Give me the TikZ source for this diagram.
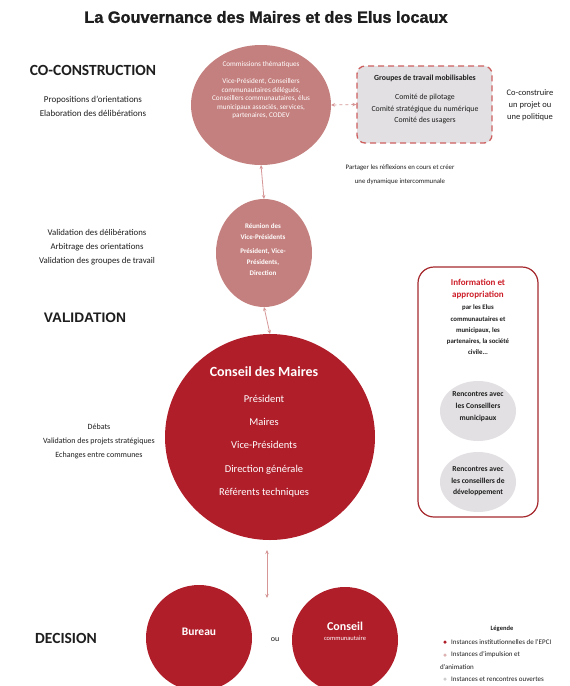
\documentclass[tikz,border=0pt]{standalone}
\usepackage{fontspec}
\setmainfont{Carlito}
\newfontfamily\arialfont{Liberation Sans}
\newfontfamily\titlefont[BoldFont={Liberation Sans Bold},BoldFeatures={FakeBold=1.4}]{Liberation Sans}
\usetikzlibrary{shapes.geometric,arrows.meta}
\definecolor{rose}{RGB}{196,128,126}
\definecolor{crimson}{RGB}{176,30,42}
\definecolor{palegray}{RGB}{226,224,226}
\definecolor{dashred}{RGB}{205,95,95}
\definecolor{linkpink}{RGB}{214,150,150}
\definecolor{framered}{RGB}{165,40,45}
\definecolor{infored}{RGB}{205,30,40}
\definecolor{ink}{RGB}{30,30,30}
\begin{document}
\begin{tikzpicture}[x=1pt,y=-1pt,
  blob/.style={ellipse,inner sep=0pt,outer sep=0pt},
  rosebody/.style={blob,fill=rose},
  redbody/.style={blob,fill=crimson},
  graybody/.style={blob,fill=palegray},
  whitetxt/.style={text=white,align=center,inner sep=0pt},
  darktxt/.style={text=ink,align=center,inner sep=0pt},
  note/.style={darktxt,font=\fontsize{9}{14}\selectfont},
  heading/.style={text=ink,inner sep=0pt,font=\bfseries\fontsize{15.5}{17}\selectfont},
  link/.style={draw=linkpink,line width=0.8pt,{Stealth[length=4pt,width=3.5pt]}-{Stealth[length=4pt,width=3.5pt]}},
  legdot/.style={circle,inner sep=0pt,minimum size=3.5pt},
  legtxt/.style={darktxt,anchor=west,font=\fontsize{7}{8}\selectfont},
]
\useasboundingbox[fill=white] (0,0) rectangle (570,686);

% title
\node[text=ink,inner sep=0pt,font=\titlefont\bfseries\fontsize{16.3}{18}\selectfont] (title) at (266,17)
  {La Gouvernance des Maires et des Elus locaux};

% ---- co-construction level
\node[heading] (hco) at (93,70) {CO-CONSTRUCTION};
\node[note] (coleft) at (93,106) {Propositions d'orientations\\ Elaboration des délibérations};

\node[rosebody,minimum width=140pt,minimum height=120pt] (comm) at (261,105) {};
\node[whitetxt,font=\fontsize{7.2}{8.4}\selectfont] (commtxt) at (261,90)
  {Commissions thématiques\\[9pt] Vice-Président, Conseillers\\ communautaires délégués,\\
   Conseillers communautaires, élus\\ municipaux associés, services,\\ partenaires, CODEV};

\node[draw=dashred,line width=1.3pt,dash pattern=on 6pt off 4pt,rounded corners=8pt,fill=palegray,
      minimum width=135pt,minimum height=77pt,inner sep=0pt] (groups) at (424.5,104.5) {};
\node[darktxt,font=\fontsize{7.8}{11.3}\selectfont] (groupstxt) at (425,99.5)
  {\textbf{Groupes de travail mobilisables}\\[8pt] Comité de pilotage\\ Comité stratégique du numérique\\ Comité des usagers};

\node[darktxt,font=\fontsize{8.5}{12}\selectfont] (cocons) at (530,105) {Co-construire\\ un projet ou\\ une politique};
\node[darktxt,font=\fontsize{6.8}{14}\selectfont] (share) at (400,175)
  {Partager les réflexions en cours et créer\\ une dynamique intercommunale};

\draw[link,dashed] (comm.east) -- (groups.west);

% ---- validation level
\node[note,font=\fontsize{8.8}{14}\selectfont] (valleft) at (97,247) {Validation des délibérations\\ Arbitrage des orientations\\ Validation des groupes de travail};
\node[text=ink,inner sep=0pt,font=\arialfont\bfseries\fontsize{13.8}{15}\selectfont] (hval) at (85,318) {VALIDATION};

\node[rosebody,minimum width=96pt,minimum height=108pt] (vp) at (264,253) {};
\node[whitetxt,font=\bfseries\fontsize{7}{10.8}\selectfont] (vptxt) at (263,249.5)
  {Réunion des\\ Vice-Présidents\\[3pt] Président, Vice-\\ Présidents,\\ Direction};

\draw[link] (comm.south) -- (vp.north);

% ---- council of mayors
\node[redbody,minimum width=210pt,minimum height=206pt] (maires) at (270,437) {};
\node[whitetxt,font=\bfseries\fontsize{14}{16}\selectfont] (mairestitle) at (264,372) {Conseil des Maires};
\node[whitetxt,font=\fontsize{10.5}{23.3}\selectfont] (mairestxt) at (264,446)
  {Président\\ Maires\\ Vice-Présidents\\ Direction générale\\ Référents techniques};

\draw[link] (vp.south) -- (maires.north);

\node[note,font=\fontsize{8}{14}\selectfont] (debleft) at (99,441)
  {Débats\\ Validation des projets stratégiques\\ Echanges entre communes};

% ---- information panel
\node[draw=framered,line width=1.2pt,rounded corners=16pt,minimum width=120pt,minimum height=250pt,inner sep=0pt] (info) at (478,392) {};
\node[text=infored,align=center,inner sep=0pt,font=\bfseries\fontsize{9}{12.5}\selectfont] (infohead) at (478,289)
  {Information et\\ appropriation};
\node[darktxt,font=\bfseries\fontsize{6.8}{11.2}\selectfont] (infotxt) at (478,330)
  {par les Elus\\ communautaires et\\ municipaux, les\\ partenaires, la société\\ civile...};
\node[graybody,minimum width=76pt,minimum height=60pt] (meet1) at (478,411) {};
\node[darktxt,font=\bfseries\fontsize{7.6}{12}\selectfont] (meet1txt) at (478,407)
  {Rencontres avec\\ les Conseillers\\ municipaux};
\node[graybody,minimum width=76pt,minimum height=60pt] (meet2) at (478,482) {};
\node[darktxt,font=\bfseries\fontsize{7.6}{11.5}\selectfont] (meet2txt) at (478,481.5)
  {Rencontres avec\\ les conseillers de\\ développement};

% ---- decision level
\coordinate (decide) at (267,598);
\draw[link] ([yshift=-10pt]maires.south -| decide) -- (decide);

\node[text=ink,inner sep=0pt,font=\bfseries\fontsize{15.5}{17}\selectfont] (hdec) at (66,638) {DECISION};
\node[redbody,minimum width=106pt,minimum height=106pt] (bureau) at (199,638) {};
\node[whitetxt,font=\bfseries\fontsize{11.5}{13}\selectfont] (bureautxt) at (199,632) {Bureau};
\node[darktxt,font=\fontsize{8}{9}\selectfont] (or) at (275,640) {ou};
\node[redbody,minimum width=106pt,minimum height=106pt] (cc) at (345,640) {};
\node[whitetxt,font=\bfseries\fontsize{12}{14}\selectfont] (cctxt) at (345,626) {Conseil};
\node[whitetxt,font=\fontsize{6.5}{8}\selectfont] (cctxt2) at (345,638) {communautaire};

% ---- legend
\node[darktxt,font=\bfseries\fontsize{6.5}{8}\selectfont] (leg) at (502,629) {Légende};
\node[legdot,fill=crimson] (d1) at (445,642) {};
\node[legtxt] (l1) at (451,642) {Instances institutionnelles de l'EPCI};
\node[legdot,fill=rose!60] (d2) at (445,655) {};
\node[legtxt] (l2) at (451,655) {Instances d'impulsion et};
\node[legtxt] (l2b) at (440,667) {d'animation};
\node[legdot,fill=palegray!80!gray] (d3) at (445,679) {};
\node[legtxt] (l3) at (451,679) {Instances et rencontres ouvertes};
\end{tikzpicture}
\end{document}
